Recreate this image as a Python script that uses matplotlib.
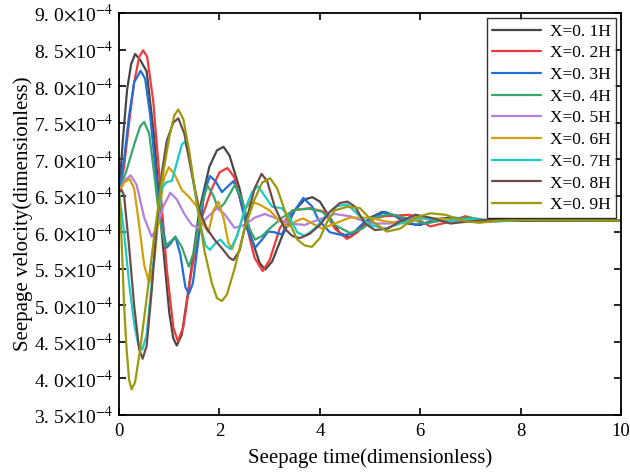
import matplotlib
matplotlib.use("Agg")
import matplotlib.pyplot as plt
from matplotlib.ticker import FuncFormatter

# seepage velocity curves (values in units of 1e-4)
labels = ["X=0. 1H", "X=0. 2H", "X=0. 3H", "X=0. 4H", "X=0. 5H",
          "X=0. 6H", "X=0. 7H", "X=0. 8H", "X=0. 9H"]
colors = ["#474747", "#f03a3a", "#1f6fd8", "#38a56a", "#b480e0",
          "#d2a00c", "#1ccaca", "#6e4b4b", "#9b9a0c"]

t1 = [0, 0.08, 0.16, 0.24, 0.32, 0.42, 0.55, 0.7, 0.85, 1.0, 1.08, 1.15, 1.25, 1.4, 1.6, 1.8, 1.95, 2.08, 2.2,
      2.4, 2.6, 2.8, 2.91, 3.05, 3.25, 3.5, 3.7, 3.85, 4.0, 4.2, 4.4, 4.6, 4.8, 5.0, 5.25, 5.5, 5.75, 6.0, 6.3,
      6.6, 7.0, 7.5, 8, 9, 10]
v1 = [6.55, 7.3, 7.95, 8.3, 8.44, 8.36, 8.2, 7.3, 6.0, 4.9, 4.55, 4.45, 4.6, 5.3, 6.3, 6.9, 7.12, 7.17, 7.05,
      6.6, 6.0, 5.58, 5.49, 5.6, 5.95, 6.3, 6.45, 6.48, 6.42, 6.2, 5.99, 5.93, 6.05, 6.2, 6.28, 6.22, 6.12, 6.1,
      6.18, 6.2, 6.15, 6.17, 6.16, 6.16, 6.16]

t2 = [0, 0.1, 0.2, 0.3, 0.4, 0.48, 0.56, 0.68, 0.8, 0.95, 1.08, 1.17, 1.28, 1.45, 1.65, 1.85, 2.0, 2.16, 2.3,
      2.5, 2.7, 2.86, 3.0, 3.2, 3.45, 3.8, 4.1, 4.3, 4.54, 4.75, 5.0, 5.3, 5.8, 6.2, 6.5, 6.9, 7.3, 7.8, 8.5, 10]
v2 = [6.55, 6.9, 7.5, 8.05, 8.4, 8.49, 8.4, 7.8, 6.8, 5.5, 4.7, 4.51, 4.7, 5.5, 6.2, 6.6, 6.82, 6.88, 6.75,
      6.2, 5.65, 5.47, 5.62, 6.05, 6.3, 6.33, 6.28, 6.05, 5.91, 6.0, 6.18, 6.22, 6.24, 6.08, 6.13, 6.22, 6.14,
      6.17, 6.16, 6.16]

t3 = [0, 0.1, 0.2, 0.3, 0.43, 0.52, 0.62, 0.72, 0.82, 0.95, 1.03, 1.12, 1.22, 1.32, 1.39, 1.47, 1.6, 1.7, 1.81,
      1.92, 2.05, 2.17, 2.28, 2.4, 2.55, 2.71, 2.85, 2.97, 3.1, 3.24, 3.45, 3.67, 3.85, 3.97, 4.2, 4.45, 4.65,
      4.9, 5.3, 5.6, 5.9, 6.3, 6.7, 7.2, 8, 10]
v3 = [6.55, 7.0, 7.6, 8.05, 8.21, 8.1, 7.6, 6.9, 6.2, 5.79, 5.85, 5.94, 5.7, 5.25, 5.16, 5.3, 6.0, 6.55, 6.77,
      6.7, 6.55, 6.63, 6.7, 6.5, 6.05, 5.79, 5.9, 6.01, 6.0, 5.97, 6.25, 6.47, 6.35, 6.17, 6.0, 5.96, 5.98,
      6.15, 6.28, 6.2, 6.1, 6.15, 6.2, 6.15, 6.16, 6.16]

t4 = [0, 0.15, 0.3, 0.42, 0.5, 0.6, 0.7, 0.8, 0.92, 1.02, 1.12, 1.25, 1.39, 1.5, 1.62, 1.76, 1.88, 1.98, 2.1,
      2.31, 2.45, 2.6, 2.71, 2.85, 3.0, 3.25, 3.5, 3.8, 4.05, 4.3, 4.6, 4.85, 5.1, 5.4, 5.8, 6.1, 6.5, 7, 7.5,
      8, 10]
v4 = [6.55, 6.85, 7.2, 7.45, 7.51, 7.35, 6.8, 6.2, 5.81, 5.87, 5.94, 5.8, 5.53, 5.75, 6.3, 6.64, 6.5, 6.31, 6.4,
      6.65, 6.45, 6.05, 5.9, 5.95, 6.05, 6.2, 6.31, 6.32, 6.28, 6.1, 5.99, 6.05, 6.2, 6.25, 6.18, 6.12, 6.17,
      6.2, 6.15, 6.16, 6.16]

t5 = [0, 0.1, 0.23, 0.35, 0.5, 0.65, 0.75, 0.88, 1.02, 1.15, 1.3, 1.45, 1.58, 1.75, 1.95, 2.1, 2.3, 2.5, 2.7,
      2.9, 3.1, 3.4, 3.7, 4.0, 4.3, 4.6, 5.0, 5.4, 5.8, 6.2, 6.8, 7.5, 10]
v5 = [6.55, 6.7, 6.78, 6.65, 6.2, 5.94, 6.05, 6.35, 6.54, 6.45, 6.25, 6.1, 6.06, 6.2, 6.33, 6.25, 6.06, 6.1,
      6.2, 6.25, 6.2, 6.12, 6.1, 6.18, 6.25, 6.22, 6.12, 6.12, 6.2, 6.18, 6.15, 6.17, 6.16]

t6 = [0, 0.1, 0.21, 0.3, 0.4, 0.5, 0.6, 0.7, 0.8, 0.9, 0.99, 1.1, 1.25, 1.4, 1.55, 1.68, 1.78, 1.88, 1.98,
      2.08, 2.18, 2.25, 2.35, 2.5, 2.62, 2.8, 3.0, 3.2, 3.37, 3.52, 3.67, 3.85, 4.05, 4.3, 4.6, 5.0, 5.3, 5.7,
      6.1, 6.5, 7, 7.5, 10]
v6 = [6.55, 6.68, 6.73, 6.6, 6.1, 5.55, 5.31, 5.6, 6.3, 6.75, 6.89, 6.8, 6.58, 6.48, 6.35, 6.1, 6.0, 6.3, 6.42,
      6.2, 5.85, 5.77, 5.95, 6.3, 6.42, 6.38, 6.3, 6.15, 6.08, 6.15, 6.19, 6.12, 6.05, 6.12, 6.2, 6.2, 6.15,
      6.12, 6.2, 6.18, 6.14, 6.17, 6.16]

t7 = [0, 0.1, 0.2, 0.3, 0.38, 0.46, 0.55, 0.65, 0.75, 0.85, 0.95, 1.05, 1.15, 1.25, 1.31, 1.4, 1.5, 1.62, 1.72,
      1.81, 1.92, 2.02, 2.12, 2.22, 2.35, 2.5, 2.65, 2.77, 2.9, 3.05, 3.24, 3.4, 3.55, 3.7, 3.9, 4.15, 4.35,
      4.55, 4.75, 5.0, 5.3, 5.6, 6.0, 6.5, 7, 7.5, 10]
v7 = [6.55, 6.0, 5.3, 4.75, 4.47, 4.39, 4.6, 5.3, 6.1, 6.6, 6.69, 6.7, 6.95, 7.2, 7.24, 7.05, 6.6, 6.1, 5.82,
      5.76, 5.85, 5.9, 5.82, 5.77, 5.95, 6.3, 6.55, 6.63, 6.5, 6.35, 6.33, 6.2, 6.0, 5.95, 6.05, 6.25, 6.36,
      6.38, 6.25, 6.1, 6.05, 6.12, 6.2, 6.15, 6.18, 6.16, 6.16]

t8 = [0, 0.05, 0.1, 0.2, 0.3, 0.4, 0.47, 0.55, 0.65, 0.75, 0.85, 0.95, 1.08, 1.18, 1.3, 1.45, 1.6, 1.75, 1.9,
      2.05, 2.2, 2.28, 2.4, 2.55, 2.7, 2.84, 2.95, 3.1, 3.3, 3.45, 3.6, 3.8, 4.0, 4.2, 4.4, 4.55, 4.7, 4.9,
      5.1, 5.35, 5.6, 5.9, 6.2, 6.6, 7, 7.5, 8, 10]
v8 = [6.55, 6.58, 6.5, 5.8, 5.0, 4.4, 4.27, 4.45, 5.2, 6.1, 6.8, 7.25, 7.5, 7.56, 7.35, 6.8, 6.3, 6.05, 5.9,
      5.78, 5.65, 5.62, 5.75, 6.2, 6.6, 6.8, 6.7, 6.35, 6.05, 5.95, 5.92, 5.98, 6.1, 6.28, 6.4, 6.42, 6.35,
      6.12, 6.03, 6.05, 6.15, 6.24, 6.2, 6.12, 6.15, 6.18, 6.16, 6.16]

t9 = [0, 0.05, 0.1, 0.15, 0.2, 0.25, 0.32, 0.42, 0.55, 0.7, 0.85, 1.0, 1.1, 1.18, 1.28, 1.4, 1.55, 1.7, 1.85,
      1.95, 2.05, 2.15, 2.3, 2.5, 2.7, 2.85, 3.01, 3.15, 3.35, 3.55, 3.7, 3.84, 4.0, 4.15, 4.3, 4.55, 4.8,
      5.05, 5.33, 5.6, 5.9, 6.2, 6.5, 6.9, 7.19, 7.5, 8, 10]
v9 = [6.55, 5.9, 5.0, 4.4, 3.98, 3.85, 3.95, 4.4, 5.1, 5.95, 6.7, 7.3, 7.6, 7.68, 7.55, 7.1, 6.4, 5.75, 5.3,
      5.1, 5.06, 5.15, 5.5, 6.05, 6.45, 6.68, 6.74, 6.6, 6.2, 5.9, 5.82, 5.8, 5.92, 6.15, 6.3, 6.35, 6.33,
      6.15, 6.01, 6.05, 6.2, 6.26, 6.24, 6.15, 6.13, 6.16, 6.17, 6.16]

times = [t1, t2, t3, t4, t5, t6, t7, t8, t9]
values = [v1, v2, v3, v4, v5, v6, v7, v8, v9]

plt.rcParams["font.family"] = "Liberation Serif"
plt.rcParams["mathtext.fontset"] = "stix"

fig = plt.figure(figsize=(6.3, 4.74), dpi=100)
ax = fig.add_axes([0.189, 0.1245, 0.7967, 0.848])

for t, v, lab, c in zip(times, values, labels, colors):
    ax.plot(t, [x * 1e-4 for x in v], color=c, lw=1.6, label=lab,
            solid_joinstyle="round", solid_capstyle="round")

ax.set_xlim(0, 10)
ax.set_ylim(3.5e-4, 9.0e-4)
ax.set_xticks([0, 2, 4, 6, 8, 10])
ax.set_yticks([k * 0.5e-4 for k in range(7, 19)])


def ylab(y, pos):
    s = "%.1f" % (y * 1e4)
    return s.replace(".", ". ") + r"$\times$10$^{-4}$"


ax.yaxis.set_major_formatter(FuncFormatter(ylab))
ax.tick_params(direction="in", top=True, right=True, length=5, width=1.2, labelsize=13.5)
ax.tick_params(axis="y", labelsize=14, pad=4)
ax.tick_params(axis="x", pad=6)
for s in ax.spines.values():
    s.set_linewidth(1.3)

ax.set_xlabel("Seepage time(dimensionless)", fontsize=15, labelpad=6)
ax.set_ylabel("Seepage velocity(dimensionless)", fontsize=15, labelpad=1)

leg = ax.legend(loc="upper right", fontsize=12.5, frameon=True, fancybox=False,
                edgecolor="black", borderaxespad=0.3, handlelength=2.8,
                labelspacing=0.32, borderpad=0.3, handletextpad=0.5)
leg.get_frame().set_linewidth(1.0)

fig.savefig("out.png", dpi=100)
